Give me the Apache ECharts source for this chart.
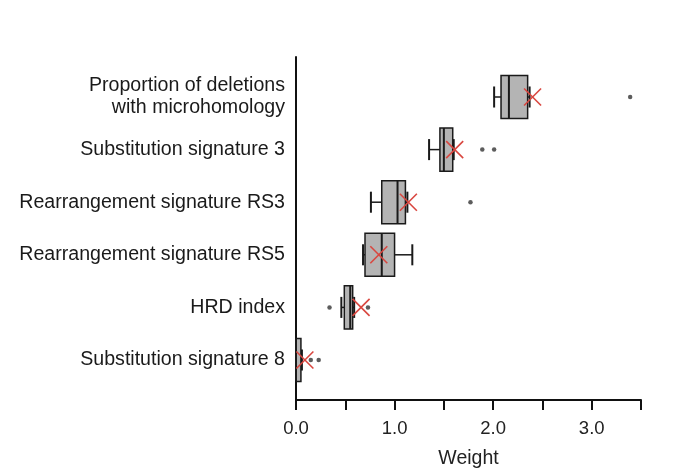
<!DOCTYPE html>
<html>
<head>
<meta charset="utf-8">
<script src="https://cdn.jsdelivr.net/npm/echarts@6/dist/echarts.min.js"></script>
<style>
html,body{margin:0;padding:0;background:#fff;}
#c{width:700px;height:476px;}
</style>
</head>
<body>
<div id="c"></div>
<script>
var categories = [
  'Proportion of deletions\nwith microhomology',
  'Substitution signature 3',
  'Rearrangement signature RS3',
  'Rearrangement signature RS5',
  'HRD index',
  'Substitution signature 8'
];
// [lowerWhisker, Q1, median, Q3, upperWhisker]
var boxStats = [
  [2.01, 2.08, 2.16, 2.35, 2.37],
  [1.35, 1.46, 1.50, 1.59, 1.60],
  [0.76, 0.87, 1.03, 1.11, 1.13],
  [0.68, 0.70, 0.87, 1.00, 1.18],
  [0.46, 0.49, 0.55, 0.575, 0.59],
  [0.00, 0.00, 0.00, 0.05, 0.06]
];
var means = [2.40, 1.61, 1.14, 0.84, 0.66, 0.09];
var outliers = [
  [3.39, 0],
  [1.89, 1], [2.01, 1],
  [1.77, 2],
  [0.34, 4], [0.73, 4],
  [0.15, 5], [0.23, 5]
];
var xTicks = [0, 0.5, 1, 1.5, 2, 2.5, 3, 3.5];

var chart = echarts.init(document.getElementById('c'), null, {renderer: 'canvas'});
var FONT = 'Liberation Sans, Arial, Helvetica, sans-serif';
var boxData = boxStats.map(function (s, i) { return [i].concat(s); });
var meanData = means.map(function (m, i) { return [m, i]; });

chart.setOption({
  animation: false,
  grid: [
    {left: 296, right: 59, top: 57, bottom: 76},
    {left: 296, right: 59, top: 70.7, bottom: 89.7}
  ],
  xAxis: [
    {
      type: 'value', gridIndex: 0, min: 0, max: 3.5, interval: 0.5,
      axisLine: {show: true, lineStyle: {color: '#111', width: 2}},
      axisTick: {show: true, length: 10, lineStyle: {color: '#111', width: 2}},
      axisLabel: {
        margin: 19, fontSize: 18.5, color: '#222', fontFamily: FONT,
        formatter: function (v) { return (Math.abs(v - Math.round(v)) < 1e-9) ? v.toFixed(1) : ''; }
      },
      splitLine: {show: false},
      name: 'Weight', nameLocation: 'middle', nameGap: 49,
      nameTextStyle: {fontSize: 19.5, color: '#222', fontFamily: FONT}
    },
    {
      type: 'value', gridIndex: 1, min: 0, max: 3.5, show: false
    }
  ],
  yAxis: [
    {
      type: 'value', gridIndex: 0, min: 0, max: 1,
      axisLine: {show: true, lineStyle: {color: '#111', width: 2}},
      axisTick: {show: false}, axisLabel: {show: false}, splitLine: {show: false}
    },
    {
      type: 'category', gridIndex: 1, data: categories, inverse: true,
      axisLine: {show: false}, axisTick: {show: false}, splitLine: {show: false},
      axisLabel: {
        margin: 11, fontSize: 19.6, color: '#1a1a1a', fontFamily: FONT,
        lineHeight: 22, align: 'right'
      }
    }
  ],
  series: [
    {
      type: 'custom', xAxisIndex: 1, yAxisIndex: 1, clip: false,
      data: boxData,
      encode: {x: [1, 2, 3, 4, 5], y: 0},
      renderItem: function (params, api) {
        var idx = api.value(0);
        var band = api.size([0, 1])[1];
        var lo = api.coord([api.value(1), idx]);
        var q1 = api.coord([api.value(2), idx]);
        var md = api.coord([api.value(3), idx]);
        var q3 = api.coord([api.value(4), idx]);
        var hi = api.coord([api.value(5), idx]);
        var cy = lo[1];
        var bh = band * 0.82;
        var ch = band * 0.4;
        var ls = {stroke: '#1a1a1a', lineWidth: 1.5};
        return {
          type: 'group',
          children: [
            {type: 'line', shape: {x1: lo[0], y1: cy, x2: q1[0], y2: cy}, style: ls},
            {type: 'line', shape: {x1: q3[0], y1: cy, x2: hi[0], y2: cy}, style: ls},
            {type: 'line', shape: {x1: lo[0], y1: cy - ch / 2, x2: lo[0], y2: cy + ch / 2}, style: {stroke: '#1a1a1a', lineWidth: 2}},
            {type: 'line', shape: {x1: hi[0], y1: cy - ch / 2, x2: hi[0], y2: cy + ch / 2}, style: {stroke: '#1a1a1a', lineWidth: 2}},
            {type: 'rect', shape: {x: q1[0], y: cy - bh / 2, width: q3[0] - q1[0], height: bh},
              style: {fill: '#b4b4b4', stroke: '#1a1a1a', lineWidth: 1.5}},
            {type: 'line', shape: {x1: md[0], y1: cy - bh / 2, x2: md[0], y2: cy + bh / 2}, style: {stroke: '#1a1a1a', lineWidth: 2}}
          ]
        };
      }
    },
    {
      type: 'scatter', xAxisIndex: 1, yAxisIndex: 1,
      data: outliers, symbol: 'circle', symbolSize: 4.5,
      itemStyle: {color: '#333'}
    },
    {
      type: 'custom', xAxisIndex: 1, yAxisIndex: 1, clip: false,
      data: meanData,
      encode: {x: 0, y: 1},
      renderItem: function (params, api) {
        var p = api.coord([api.value(0), api.value(1)]);
        var h = 8.5;
        var st = {stroke: '#d9463f', lineWidth: 1.6};
        return {
          type: 'group',
          children: [
            {type: 'line', shape: {x1: p[0] - h, y1: p[1] - h, x2: p[0] + h, y2: p[1] + h}, style: st},
            {type: 'line', shape: {x1: p[0] - h, y1: p[1] + h, x2: p[0] + h, y2: p[1] - h}, style: st}
          ]
        };
      }
    }
  ]
});
</script>
</body>
</html>
